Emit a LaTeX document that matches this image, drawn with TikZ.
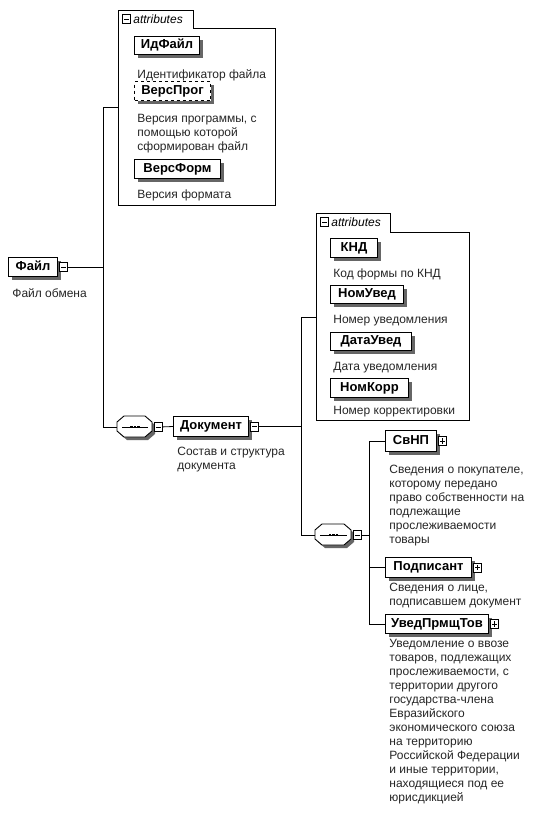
\documentclass[tikz,border=0pt]{standalone}
\usepackage{fontspec}
\setmainfont{Liberation Sans}
\usetikzlibrary{shadows}
\newcommand\myoctpath[4]{(#1+7,#2) -- (#3-7,#2) -- (#3,#2+6) -- (#3,#4-6) -- (#3-7,#4) -- (#1+7,#4) -- (#1,#4-6) -- (#1,#2+6) -- cycle}
\begin{document}
\begin{tikzpicture}[x=1pt,y=-1pt,
  line width=0.8pt,
  shadowed/.style={drop shadow={shadow xshift=3pt,shadow yshift=-3pt,opacity=1,fill=black!60}},
  box/.style={draw, line width=1pt, fill=white, inner sep=0, anchor=north west, shadowed,
    text height=9.2pt, text depth=2.6pt,
    font=\bfseries\fontsize{13}{15}\selectfont},
  optbox/.style={box, dashed},
  desc/.style={anchor=north west, inner sep=0, align=left, text=black!85,
    font=\fontsize{12}{14}\selectfont},
  minusicon/.style={draw, fill=white, inner sep=0, minimum width=8, minimum height=9, anchor=west,
    path picture={\draw[line width=0.7pt] ([xshift=1.6pt]path picture bounding box.west) -- ([xshift=-1.6pt]path picture bounding box.east);}},
  plusicon/.style={minusicon,
    path picture={\draw[line width=0.7pt] ([xshift=1.6pt]path picture bounding box.west) -- ([xshift=-1.6pt]path picture bounding box.east);
      \draw[line width=0.7pt] ([yshift=-1.8pt]path picture bounding box.north) -- ([yshift=1.8pt]path picture bounding box.south);}},
  seqframe/.style={inner sep=0, anchor=north west},
  seqshadow/.style={fill=black!60, xshift=3pt, yshift=-3pt},
  seqbody/.style={draw, fill=white, line width=0.9pt},
  tabtext/.style={inner sep=0, anchor=west, font=\itshape\fontsize{12}{13}\selectfont},
  cont/.style={draw, line width=0.8pt}
]
\useasboundingbox[fill=white] (0,0) rectangle (535,831);

% ---------- root
\node[box, minimum width=49, minimum height=19] (file) at (8,257) {Файл};
\node[minusicon] (fileI) at ([xshift=1pt]file.east) {};
\node[desc] (fileD) at (12,287) {\strut Файл обмена};

% ---------- attributes container 1
\draw[cont] (118,205) -- (118,10) -- (193,10) -- (193,28) -- (275,28) -- (275,205) -- cycle;
\node[minusicon] (tab1I) at (122,19) {};
\node[tabtext] (tab1T) at (133,19) {attributes};
\coordinate (att1pt) at (118,107);

\node[box, minimum width=65, minimum height=18] (idf) at (134,36) {ИдФайл};
\node[desc] (idfD) at (137,68) {\strut Идентификатор файла};
\node[optbox, minimum width=76, minimum height=19] (vprog) at (134,81) {ВерсПрог};
\node[desc] (vprogD) at (137,112) {\strut Версия программы, с\\помощью которой\\сформирован файл};
\node[box, minimum width=86, minimum height=19] (vform) at (134,159) {ВерсФорм};
\node[desc] (vformD) at (137,188) {\strut Версия формата};

% ---------- sequence 1 and Документ
\path[seqshadow] \myoctpath{117}{416}{152}{437};
\path[seqbody] \myoctpath{117}{416}{152}{437};
\node[seqframe, minimum width=35, minimum height=21] (seq1) at (117,416) {};
\draw ([xshift=5pt]seq1.west) -- ([xshift=-5pt]seq1.east);
\foreach \d in {-3.5,0,3.5}{\fill ([xshift=\d pt]seq1.center) +(-1.2pt,-1.2pt) rectangle +(1.2pt,1.2pt);}
\node[minusicon] (seq1I) at ([xshift=1pt]seq1.east) {};
\node[box, minimum width=75, minimum height=20] (doc) at (173,416) {Документ};
\node[minusicon] (docI) at ([xshift=1pt]doc.east) {};
\node[desc] (docD) at (177,445) {\strut Состав и структура\\документа};

\coordinate (b1) at (103,0);
\draw (fileI.east) -- (fileI.east -| b1);
\draw (att1pt) -| (b1 |- seq1.west) -- (seq1.west);
\draw (seq1I.east) -- (doc.west);

% ---------- attributes container 2
\draw[cont] (316,420) -- (316,213) -- (390,213) -- (390,232) -- (469,232) -- (469,420) -- cycle;
\node[minusicon] (tab2I) at (320,222) {};
\node[tabtext] (tab2T) at (331,222) {attributes};
\coordinate (att2pt) at (316,317);

\node[box, minimum width=47, minimum height=19] (knd) at (330,238) {КНД};
\node[desc] (kndD) at (333,267) {\strut Код формы по КНД};
\node[box, minimum width=73, minimum height=18] (nomu) at (330,285) {НомУвед};
\node[desc] (nomuD) at (333,313) {\strut Номер уведомления};
\node[box, minimum width=81, minimum height=18] (datu) at (330,332) {ДатаУвед};
\node[desc] (datuD) at (333,360) {\strut Дата уведомления};
\node[box, minimum width=78, minimum height=19] (nomk) at (330,378) {НомКорр};
\node[desc] (nomkD) at (333,404) {\strut Номер корректировки};

% ---------- sequence 2 and children
\path[seqshadow] \myoctpath{315}{524}{351}{545};
\path[seqbody] \myoctpath{315}{524}{351}{545};
\node[seqframe, minimum width=36, minimum height=21] (seq2) at (315,524) {};
\draw ([xshift=5pt]seq2.west) -- ([xshift=-5pt]seq2.east);
\foreach \d in {-3.5,0,3.5}{\fill ([xshift=\d pt]seq2.center) +(-1.2pt,-1.2pt) rectangle +(1.2pt,1.2pt);}
\node[minusicon] (seq2I) at ([xshift=1pt]seq2.east) {};

\coordinate (b2) at (301,0);
\draw (docI.east) -- (docI.east -| b2);
\draw (att2pt) -| (b2 |- seq2.west) -- (seq2.west);

\node[box, minimum width=51, minimum height=21] (svnp) at (385,430) {СвНП};
\node[plusicon] (svnpI) at ([xshift=1pt]svnp.east) {};
\node[desc] (svnpD) at (389,463) {\strut Сведения о покупателе,\\которому передано\\право собственности на\\подлежащие\\прослеживаемости\\товары};

\node[box, minimum width=86, minimum height=20] (podp) at (385,557) {Подписант};
\node[plusicon] (podpI) at ([xshift=1pt]podp.east) {};
\node[desc] (podpD) at (389,581) {\strut Сведения о лице,\\подписавшем документ};

\node[box, minimum width=103, minimum height=19] (uved) at (385,614) {УведПрмщТов};
\node[plusicon] (uvedI) at ([xshift=1pt]uved.east) {};
\node[desc] (uvedD) at (389,637) {\strut Уведомление о ввозе\\товаров, подлежащих\\прослеживаемости, с\\территории другого\\государства-члена\\Евразийского\\экономического союза\\на территорию\\Российской Федерации\\и иные территории,\\находящиеся под ее\\юрисдикцией};

\coordinate (b3) at (369,0);
\draw (seq2I.east) -- (seq2I.east -| b3);
\draw (svnp.west) -| (b3 |- uved.west) -- (uved.west);
\draw (podp.west) -- (podp.west -| b3);
\end{tikzpicture}
\end{document}
